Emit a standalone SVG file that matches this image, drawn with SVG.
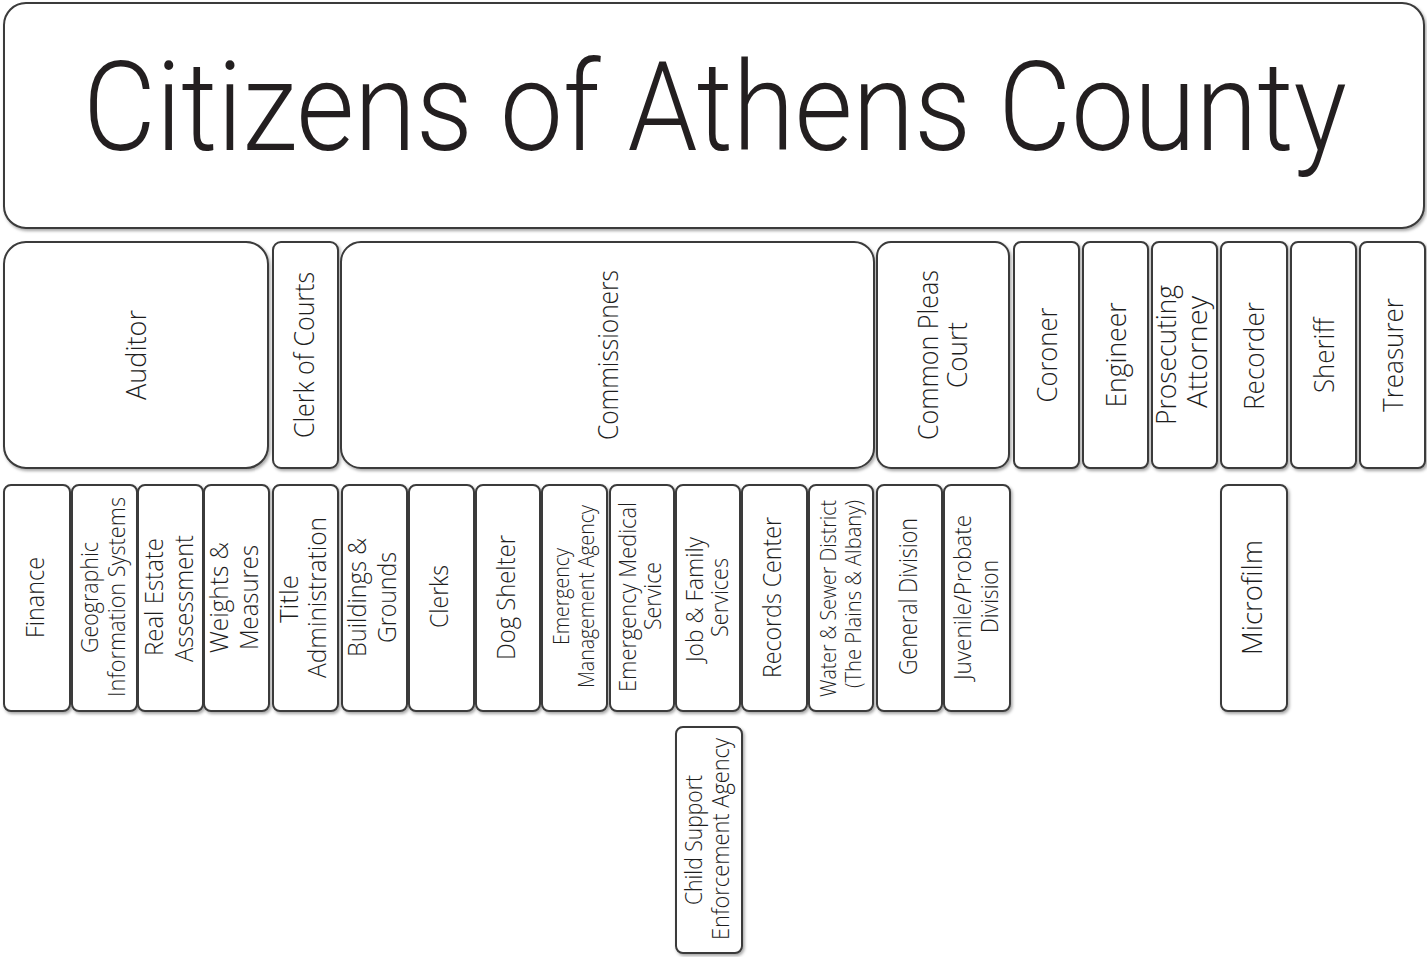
<svg xmlns="http://www.w3.org/2000/svg" width="1427" height="957" viewBox="0 0 1427 957">
<defs>
<filter id="sh" x="-10%" y="-10%" width="120%" height="120%">
<feDropShadow dx="1.5" dy="2" stdDeviation="1.5" flood-color="#000" flood-opacity="0.35"/>
</filter>
</defs>
<style>
rect{fill:#fff;stroke:#3a3a3a;stroke-width:2;filter:url(#sh)}
text{font-family:"Open Sans","Lato","DejaVu Sans",sans-serif;font-weight:300;fill:#1e1e1e;text-anchor:middle}
.t{font-family:Roboto,"Liberation Sans",sans-serif;font-weight:300;font-size:124px;fill:#231f20}
.a{font-size:28px}
.b{font-size:25px}
.c{font-size:24px}
.d{font-size:22px}
.e{font-size:23px}
.f{font-size:27px}
</style>
<rect width="1427" height="957" style="fill:#fff;stroke:none;filter:none"/>
<g id="connectors"/>
<g id="citizens"><rect x="4" y="3" width="1420" height="225" rx="22"/>
<text class="t" transform="translate(715,150) scale(0.89,1)" textLength="1420" lengthAdjust="spacingAndGlyphs">Citizens of Athens County</text></g>

<g id="auditor"><rect x="4" y="242" width="264" height="226" rx="22"/>
<text class="a" transform="translate(145.5,355) rotate(-90)" textLength="90" lengthAdjust="spacingAndGlyphs">Auditor</text></g>
<g id="clerk-of-courts"><rect x="273" y="242" width="65" height="226" rx="8"/>
<text class="a" transform="translate(313.5,355) rotate(-90)" textLength="166" lengthAdjust="spacingAndGlyphs">Clerk of Courts</text></g>
<g id="commissioners"><rect x="341" y="242" width="533" height="226" rx="20"/>
<text class="a" transform="translate(617.5,355) rotate(-90)" textLength="170" lengthAdjust="spacingAndGlyphs">Commissioners</text></g>
<g id="common-pleas-court"><rect x="877" y="242" width="132" height="226" rx="14"/>
<text class="a" transform="translate(937.5,355) rotate(-90)" textLength="170" lengthAdjust="spacingAndGlyphs">Common Pleas</text>
<text class="a" transform="translate(966.5,355) rotate(-90)" textLength="66" lengthAdjust="spacingAndGlyphs">Court</text></g>
<g id="coroner"><rect x="1014" y="242" width="65" height="226" rx="7"/>
<text class="a" transform="translate(1056.5,355) rotate(-90)" textLength="95" lengthAdjust="spacingAndGlyphs">Coroner</text></g>
<g id="engineer"><rect x="1083" y="242" width="65" height="226" rx="7"/>
<text class="a" transform="translate(1125.5,355) rotate(-90)" textLength="105" lengthAdjust="spacingAndGlyphs">Engineer</text></g>
<g id="prosecuting-attorney"><rect x="1152" y="242" width="65" height="226" rx="7"/>
<text class="a" transform="translate(1176,355) rotate(-90)" textLength="140" lengthAdjust="spacingAndGlyphs">Prosecuting</text>
<text class="a" transform="translate(1207,352) rotate(-90)" textLength="112" lengthAdjust="spacingAndGlyphs">Attorney</text></g>
<g id="recorder"><rect x="1221" y="242" width="66" height="226" rx="7"/>
<text class="a" transform="translate(1264,356) rotate(-90)" textLength="108" lengthAdjust="spacingAndGlyphs">Recorder</text></g>
<g id="sheriff"><rect x="1291" y="242" width="65" height="226" rx="7"/>
<text class="a" transform="translate(1333.5,355.5) rotate(-90)" textLength="75" lengthAdjust="spacingAndGlyphs">Sheriff</text></g>
<g id="treasurer"><rect x="1360" y="242" width="65" height="226" rx="7"/>
<text class="a" transform="translate(1402.5,355) rotate(-90)" textLength="114" lengthAdjust="spacingAndGlyphs">Treasurer</text></g>

<g id="finance"><rect x="4" y="485" width="66" height="226" rx="7"/>
<text class="b" transform="translate(43.5,597.5) rotate(-90)" textLength="81" lengthAdjust="spacingAndGlyphs">Finance</text></g>
<g id="gis"><rect x="72" y="485" width="65" height="226" rx="7"/>
<text class="c" transform="translate(97.5,597.5) rotate(-90)" textLength="111" lengthAdjust="spacingAndGlyphs">Geographic</text>
<text class="c" transform="translate(124.5,597) rotate(-90)" textLength="200" lengthAdjust="spacingAndGlyphs">Information Systems</text></g>
<g id="real-estate-assessment"><rect x="138" y="485" width="65" height="226" rx="7"/>
<text class="b" transform="translate(163,597) rotate(-90)" textLength="118" lengthAdjust="spacingAndGlyphs">Real Estate</text>
<text class="b" transform="translate(193,598.5) rotate(-90)" textLength="127" lengthAdjust="spacingAndGlyphs">Assessment</text></g>
<g id="weights-measures"><rect x="204" y="485" width="65" height="226" rx="7"/>
<text class="b" transform="translate(228,597.5) rotate(-90)" textLength="111" lengthAdjust="spacingAndGlyphs">Weights &amp;</text>
<text class="b" transform="translate(258,597.5) rotate(-90)" textLength="105" lengthAdjust="spacingAndGlyphs">Measures</text></g>
<g id="title-administration"><rect x="273" y="485" width="65" height="226" rx="7"/>
<text class="b" transform="translate(298,599) rotate(-90)" textLength="48" lengthAdjust="spacingAndGlyphs">Title</text>
<text class="b" transform="translate(326,597.5) rotate(-90)" textLength="161" lengthAdjust="spacingAndGlyphs">Administration</text></g>
<g id="buildings-grounds"><rect x="342" y="485" width="65" height="226" rx="7"/>
<text class="b" transform="translate(366,597.5) rotate(-90)" textLength="119" lengthAdjust="spacingAndGlyphs">Buildings &amp;</text>
<text class="b" transform="translate(396,597.5) rotate(-90)" textLength="91" lengthAdjust="spacingAndGlyphs">Grounds</text></g>
<g id="clerks"><rect x="409" y="485" width="65" height="226" rx="7"/>
<text class="b" transform="translate(448,596.5) rotate(-90)" textLength="63" lengthAdjust="spacingAndGlyphs">Clerks</text></g>
<g id="dog-shelter"><rect x="476" y="485" width="64" height="226" rx="7"/>
<text class="b" transform="translate(515,597.5) rotate(-90)" textLength="125" lengthAdjust="spacingAndGlyphs">Dog Shelter</text></g>
<g id="ema"><rect x="542" y="485" width="65" height="226" rx="7"/>
<text class="d" transform="translate(569,596.5) rotate(-90)" textLength="97" lengthAdjust="spacingAndGlyphs">Emergency</text>
<text class="d" transform="translate(594,596.5) rotate(-90)" textLength="183" lengthAdjust="spacingAndGlyphs">Management Agency</text></g>
<g id="ems"><rect x="610" y="485" width="64" height="226" rx="7"/>
<text class="c" transform="translate(635.5,597) rotate(-90)" textLength="190" lengthAdjust="spacingAndGlyphs">Emergency Medical</text>
<text class="c" transform="translate(660.5,596) rotate(-90)" textLength="68" lengthAdjust="spacingAndGlyphs">Service</text></g>
<g id="job-family-services"><rect x="676" y="485" width="64" height="226" rx="7"/>
<text class="c" transform="translate(702.5,599.5) rotate(-90)" textLength="125" lengthAdjust="spacingAndGlyphs">Job &amp; Family</text>
<text class="c" transform="translate(727.5,597.5) rotate(-90)" textLength="79" lengthAdjust="spacingAndGlyphs">Services</text></g>
<g id="records-center"><rect x="742" y="485" width="65" height="226" rx="7"/>
<text class="b" transform="translate(781,597.5) rotate(-90)" textLength="161" lengthAdjust="spacingAndGlyphs">Records Center</text></g>
<g id="water-sewer"><rect x="809" y="485" width="64" height="226" rx="7"/>
<text class="d" transform="translate(836,598.5) rotate(-90)" textLength="197" lengthAdjust="spacingAndGlyphs">Water &amp; Sewer District</text>
<text class="d" transform="translate(861,594) rotate(-90)" textLength="188" lengthAdjust="spacingAndGlyphs">(The Plains &amp; Albany)</text></g>
<g id="general-division"><rect x="877" y="485" width="65" height="226" rx="7"/>
<text class="b" transform="translate(917,596.5) rotate(-90)" textLength="157" lengthAdjust="spacingAndGlyphs">General Division</text></g>
<g id="juvenile-probate"><rect x="944" y="485" width="66" height="226" rx="7"/>
<text class="c" transform="translate(970.5,597.5) rotate(-90)" textLength="165" lengthAdjust="spacingAndGlyphs">Juvenile/Probate</text>
<text class="c" transform="translate(997.5,596.5) rotate(-90)" textLength="73" lengthAdjust="spacingAndGlyphs">Division</text></g>
<g id="microfilm"><rect x="1221" y="485" width="66" height="226" rx="7"/>
<text class="f" transform="translate(1262,597.5) rotate(-90)" textLength="115" lengthAdjust="spacingAndGlyphs">Microfilm</text></g>
<g id="child-support"><rect x="676" y="727" width="66" height="226" rx="7"/>
<text class="e" transform="translate(702,840) rotate(-90)" textLength="130" lengthAdjust="spacingAndGlyphs">Child Support</text>
<text class="e" transform="translate(729,839) rotate(-90)" textLength="202" lengthAdjust="spacingAndGlyphs">Enforcement Agency</text></g>
</svg>
